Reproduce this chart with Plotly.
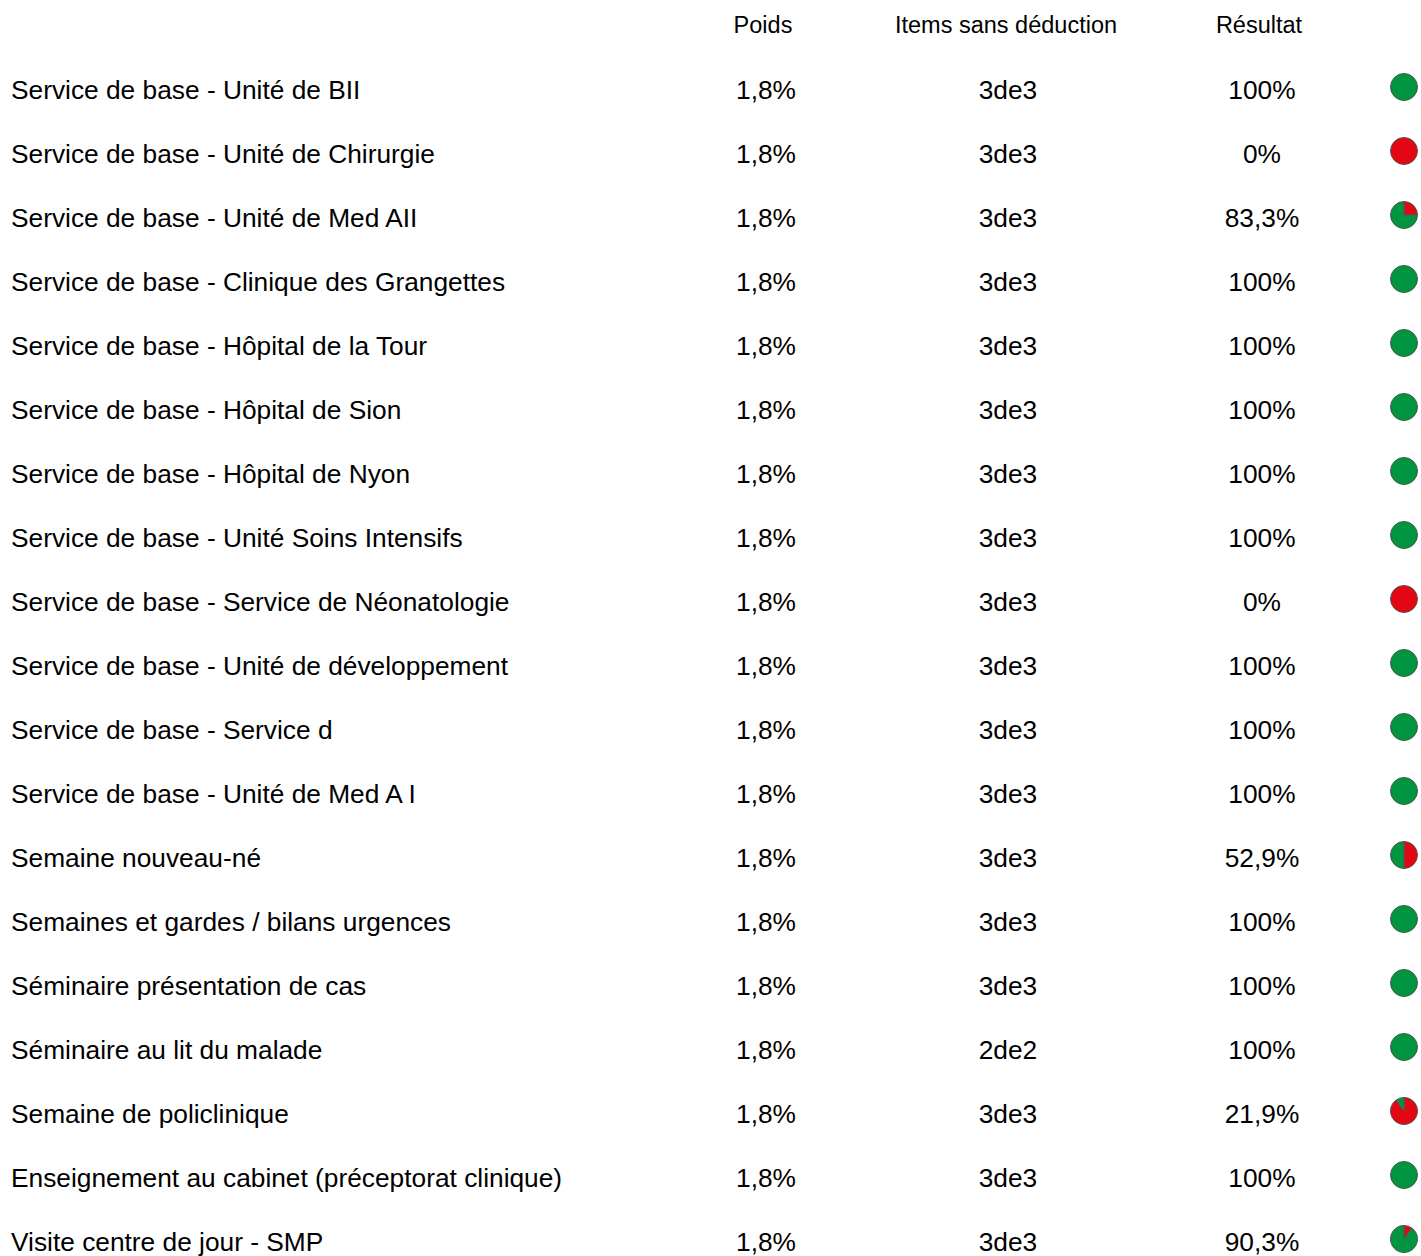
import plotly.graph_objects as go

labels = [
    "Service de base - Unité de BII",
    "Service de base - Unité de Chirurgie",
    "Service de base - Unité de Med AII",
    "Service de base - Clinique des Grangettes",
    "Service de base - Hôpital de la Tour",
    "Service de base - Hôpital de Sion",
    "Service de base - Hôpital de Nyon",
    "Service de base - Unité Soins Intensifs",
    "Service de base - Service de Néonatologie",
    "Service de base - Unité de développement",
    "Service de base - Service d",
    "Service de base - Unité de Med A I",
    "Semaine nouveau-né",
    "Semaines et gardes / bilans urgences",
    "Séminaire présentation de cas",
    "Séminaire au lit du malade",
    "Semaine de policlinique",
    "Enseignement au cabinet (préceptorat clinique)",
    "Visite centre de jour - SMP",
]
poids = ["1,8%"] * 19
items = ["3de3"] * 15 + ["2de2"] + ["3de3"] * 3
resultat = ["100%", "0%", "83,3%", "100%", "100%", "100%", "100%", "100%", "0%",
            "100%", "100%", "100%", "52,9%", "100%", "100%", "100%", "21,9%", "100%", "90,3%"]
# green share of each status pie as drawn
pie_green = [100, 0, 75, 100, 100, 100, 100, 100, 0, 100, 100, 100, 50, 100, 100, 100, 10, 100, 90]
headers = ["Poids", "Items sans déduction", "Résultat"]

W, H = 1421, 1256
ROW0, STEP = 90, 64  # pixel centre of first row and row spacing
GREEN, RED = "#00963f", "#e30613"
FONT = "Liberation Sans, Arial, sans-serif"

n = len(labels)
idx = [i + 0.045 for i in range(n)]
y_lo = (H - ROW0) / STEP   # bottom of axis in row units
y_hi = -ROW0 / STEP        # top of axis in row units

fig = go.Figure()
fig.add_trace(go.Scatter(x=[11] * n, y=idx, text=labels, mode="text",
                         textposition="middle right",
                         textfont=dict(size=26.3, color="#000", family=FONT),
                         hoverinfo="skip", showlegend=False))
for xc, col in [(766, poids), (1008, items), (1262, resultat)]:
    fig.add_trace(go.Scatter(x=[xc] * n, y=idx, text=col, mode="text",
                             textposition="middle center",
                             textfont=dict(size=26.3, color="#000", family=FONT),
                             hoverinfo="skip", showlegend=False))
fig.add_trace(go.Scatter(x=[763, 1006, 1259], y=[-0.99] * 3, text=headers, mode="text",
                         textposition="middle center",
                         textfont=dict(size=23.5, color="#000", family=FONT),
                         hoverinfo="skip", showlegend=False))

D = 27
for i, g in enumerate(pie_green):
    cy = ROW0 + STEP * i - 3
    cx = 1404
    vals, cols = [], []
    for v, c in [(100 - g, RED), (g, GREEN)]:
        if v > 0:
            vals.append(v)
            cols.append(c)
    fig.add_trace(go.Pie(
        values=vals,
        marker=dict(colors=cols, line=dict(color="#555555", width=1)),
        sort=False, direction="clockwise", rotation=0,
        textinfo="none", hoverinfo="skip", showlegend=False,
        domain=dict(x=[(cx - D / 2) / W, (cx + D / 2) / W],
                    y=[1 - (cy + D / 2) / H, 1 - (cy - D / 2) / H]),
    ))

fig.update_layout(
    width=W, height=H, margin=dict(l=0, r=0, t=0, b=0),
    paper_bgcolor="white", plot_bgcolor="white",
    xaxis=dict(range=[0, W], visible=False, fixedrange=True),
    yaxis=dict(range=[y_lo, y_hi], visible=False, fixedrange=True),
    showlegend=False,
)
fig.write_html("out.html", config={"displayModeBar": False},
               post_script="document.body.style.margin='0';document.body.style.overflow='hidden';")
